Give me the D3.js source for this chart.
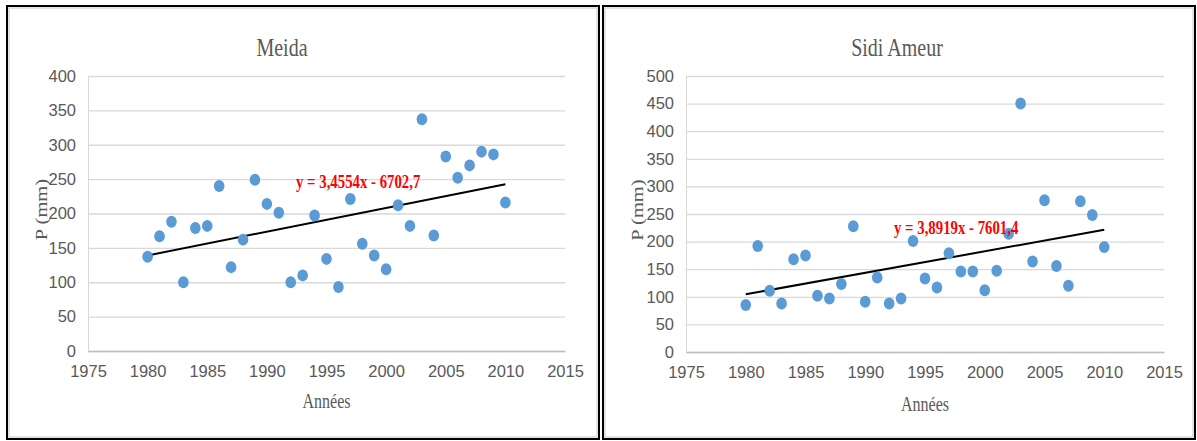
<!DOCTYPE html>
<html>
<head>
<meta charset="utf-8">
<script src="https://cdn.jsdelivr.net/npm/d3@7"></script>
<style>
  body { margin: 0; background: #fff; }
  svg { display: block; }
</style>
</head>
<body>
<div id="chart"></div>
<script>
// data
const years = [1980, 1981, 1982, 1983, 1984, 1985, 1986, 1987, 1988, 1989,
               1990, 1991, 1992, 1993, 1994, 1995, 1996, 1997, 1998, 1999,
               2000, 2001, 2002, 2003, 2004, 2005, 2006, 2007, 2008, 2009, 2010];

const meidaP = [137, 167, 188, 100, 179, 182, 240, 122, 162, 249,
                214, 201, 100, 110, 197, 134, 93, 221, 156, 139,
                119, 212, 182, 337, 168, 283, 252, 270, 290, 286, 216];

const sidiP = [85, 192, 111, 88, 168, 175, 102, 97, 123, 228,
               91, 135, 88, 97, 201, 133, 117, 179, 146, 146,
               112, 147, 214, 450, 164, 275, 156, 120, 273, 248, 190];

const xTicks = [1975, 1980, 1985, 1990, 1995, 2000, 2005, 2010, 2015];
const meidaYTicks = [0, 50, 100, 150, 200, 250, 300, 350, 400];
const sidiYTicks = [0, 50, 100, 150, 200, 250, 300, 350, 400, 450, 500];

// linear trend: slope, intercept (from the equations printed on the chart)
const meidaTrend = [3.4554, -6702.7];
const sidiTrend = [3.8919, -7601.4];

const titles = ["Meida", "Sidi Ameur"];
const equations = ["y = 3,4554x - 6702,7", "y = 3,8919x - 7601,4"];
const xTitle = "Années";
const yTitle = "P (mm)";

const W = 1197, H = 441;

const svg = d3.select("#chart").append("svg")
    .attr("width", W)
    .attr("height", H);

const tickFont = "'Liberation Sans Narrow', 'Arial Narrow', 'Liberation Sans', sans-serif";
const serifFont = "'Liberation Serif', 'Times New Roman', serif";
const grey = "#595959";
const narrow = 0.8; // the original picture is squeezed sideways

function drawPanel(p) {
    // frame
    svg.append("rect")
        .attr("x", p.box[0]).attr("y", p.box[1])
        .attr("width", p.box[2]).attr("height", p.box[3])
        .attr("fill", "none").attr("stroke", "#000").attr("stroke-width", 2);
    svg.append("rect")
        .attr("x", p.box[0] + 2).attr("y", p.box[1] + 2)
        .attr("width", p.box[2] - 4).attr("height", p.box[3] - 4)
        .attr("fill", "none").attr("stroke", "#c8c8c8").attr("stroke-width", 1);

    let x = d3.scaleLinear().domain([1975, 2015]).range([p.plot[0], p.plot[1]]);
    let y = d3.scaleLinear().domain([0, d3.max(p.yTicks)]).range([p.plot[3], p.plot[2]]);

    let g = svg.append("g");

    // horizontal grid
    g.append("g")
        .attr("transform", `translate(${p.plot[0]},0)`)
        .call(d3.axisLeft(y).tickValues(p.yTicks).tickSize(-(p.plot[1] - p.plot[0])).tickFormat(d => d).tickPadding(12))
        .call(a => a.select(".domain").attr("stroke", "#d9d9d9"))
        .call(a => a.selectAll(".tick line").attr("stroke", "#d9d9d9").attr("stroke-width", 1.3))
        .call(a => a.selectAll(".tick text")
            .attr("fill", grey)
            .style("font-family", tickFont)
            .style("font-size", "16.5px"));

    // x axis
    g.append("g")
        .attr("transform", `translate(0,${p.plot[3]})`)
        .call(d3.axisBottom(x).tickValues(xTicks).tickSize(0).tickFormat(d => d).tickPadding(14))
        .call(a => a.select(".domain").attr("stroke", "#bfbfbf").attr("stroke-width", 1.3))
        .call(a => a.selectAll(".tick text")
            .attr("fill", grey)
            .style("font-family", tickFont)
            .style("font-size", "16.5px"));

    // trend line
    let trend = years.filter((d, i) => i === 0 || i === years.length - 1)
        .map(yr => [yr, p.trend[0] * yr + p.trend[1]]);
    g.append("path")
        .datum(trend)
        .attr("d", d3.line().x(d => x(d[0])).y(d => y(d[1])))
        .attr("stroke", "#000")
        .attr("stroke-width", 2)
        .attr("fill", "none");

    // points
    g.selectAll("ellipse.pt")
        .data(years.map((yr, i) => [yr, p.values[i]]))
        .enter().append("ellipse")
        .attr("class", "pt")
        .attr("cx", d => x(d[0]))
        .attr("cy", d => y(d[1]))
        .attr("rx", 5.3)
        .attr("ry", 6)
        .attr("fill", "#5b9bd5");

    // equation
    g.append("text")
        .attr("transform", `translate(${p.eq[0]},${p.eq[1]}) scale(${narrow},1)`)
        .attr("fill", "#ff0000")
        .style("font-family", serifFont)
        .style("font-weight", "bold")
        .style("font-size", "18.5px")
        .text(p.equation);

    // title
    svg.append("text")
        .attr("transform", `translate(${p.titlePos[0]},${p.titlePos[1]}) scale(${narrow},1)`)
        .attr("text-anchor", "middle")
        .attr("fill", grey)
        .style("font-family", serifFont)
        .style("font-size", "25px")
        .text(p.title);

    // axis titles
    svg.append("text")
        .attr("transform", `translate(${(p.plot[0] + p.plot[1]) / 2},${p.xTitleY}) scale(${narrow},1)`)
        .attr("text-anchor", "middle")
        .attr("fill", grey)
        .style("font-family", serifFont)
        .style("font-size", "20px")
        .text(xTitle);

    svg.append("text")
        .attr("transform", `translate(${p.box[0] + 40},${(p.plot[2] + p.plot[3]) / 2 - 4}) rotate(-90) scale(1,${narrow})`)
        .attr("text-anchor", "middle")
        .attr("fill", grey)
        .style("font-family", serifFont)
        .style("font-size", "20.5px")
        .text(yTitle);
}

drawPanel({
    box: [7, 6, 592, 433],
    plot: [88, 565, 76, 351],
    yTicks: meidaYTicks,
    values: meidaP,
    trend: meidaTrend,
    title: titles[0],
    titlePos: [282, 56],
    equation: equations[0],
    eq: [296, 188],
    xTitleY: 408
});

drawPanel({
    box: [603, 6, 592, 433],
    plot: [686, 1164, 76, 352],
    yTicks: sidiYTicks,
    values: sidiP,
    trend: sidiTrend,
    title: titles[1],
    titlePos: [897, 56],
    equation: equations[1],
    eq: [894, 234],
    xTitleY: 411
});
</script>
</body>
</html>
